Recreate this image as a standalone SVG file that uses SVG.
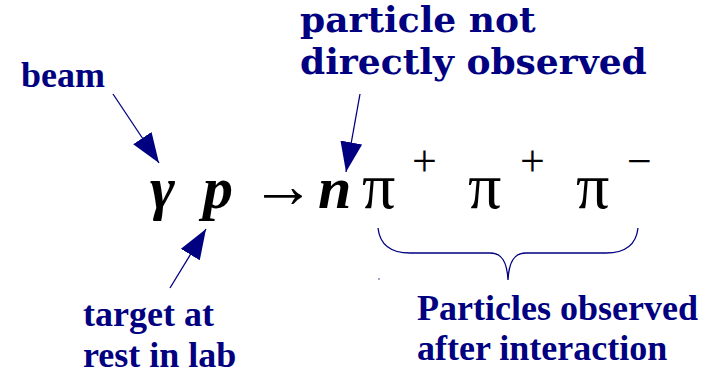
<svg xmlns="http://www.w3.org/2000/svg" width="716" height="373" viewBox="0 0 716 373">
<defs>
<marker id="ah" markerUnits="userSpaceOnUse" markerWidth="31" markerHeight="23" refX="30" refY="11" orient="auto">
<path d="M0,0 L30,11 L0,22 Z" fill="#000080"/>
</marker>
</defs>
<rect width="716" height="373" fill="#fff"/>
<g id="eq" fill="#000" font-family="Tinos">
<g font-weight="bold" font-style="italic" font-size="60">
<text x="150" y="208">γ</text>
<text x="203" y="208">p</text>
<text x="318" y="208">n</text>
</g>
<text x="251" y="207" font-size="64">→</text>
<g font-size="66">
<text x="362" y="208">π</text>
<text x="468" y="208">π</text>
<text x="576" y="208">π</text>
</g>
<g font-size="44">
<text x="412" y="176">+</text>
<text x="520" y="176">+</text>
<text x="627" y="176">−</text>
</g>
</g>
<g font-weight="bold" font-size="36" fill="#000080">
<g id="beam" font-family="Times New Roman"><text x="21" y="87">beam</text></g>
<g id="notobs" font-family="DejaVu Serif"><text x="300" y="32">particle not</text><text x="300" y="74">directly observed</text></g>
<g id="target" font-family="serif"><text x="83" y="326">target at</text><text x="83" y="367">rest in lab</text></g>
<g id="observed" font-family="Liberation Serif"><text x="417" y="320">Particles observed</text><text x="417" y="360">after interaction</text></g>
</g>
<g id="connectors" stroke="#000080" stroke-width="1.3" fill="none">
<line x1="113" y1="94" x2="159" y2="163" marker-end="url(#ah)"/>
<line x1="170" y1="288" x2="206" y2="229" marker-end="url(#ah)"/>
<line x1="360" y1="94" x2="346" y2="172" marker-end="url(#ah)"/>
<path d="M378,228 C380,246 392,253 410,253 L490,253 C502,253 507,262 508,280 C509,262 514,253 526,253 L606,253 C624,253 636,246 638,228"/>
<circle cx="379" cy="279" r="0.7" fill="#000080" stroke="none"/>
</g>
</svg>
